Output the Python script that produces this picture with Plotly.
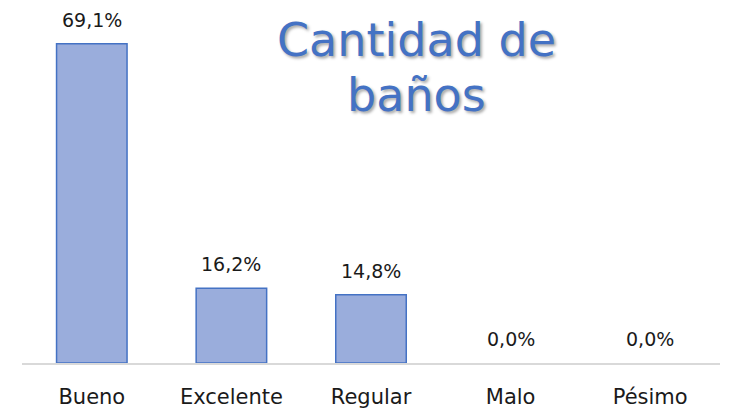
import plotly.graph_objects as go

categories = ["Bueno", "Excelente", "Regular", "Malo", "Pésimo"]
values = [69.1, 16.2, 14.8, 0.0, 0.0]
labels = ["69,1%", "16,2%", "14,8%", "0,0%", "0,0%"]

FONT = "Century Gothic, DejaVu Sans, sans-serif"

line_colors = ["#4472C4" if v > 0 else "rgba(0,0,0,0)" for v in values]

fig = go.Figure()
fig.add_trace(go.Bar(
    x=categories, y=values, width=0.505,
    marker=dict(color="#9AADDC", line=dict(color=line_colors, width=1.5)),
    hoverinfo="skip",
))

for c, v, t in zip(categories, values, labels):
    fig.add_annotation(x=c, y=v, text=t, showarrow=False, yanchor="middle",
                       yshift=24, font=dict(family=FONT, size=19, color="#1a1a1a"))

title_font = dict(family=FONT, size=46, color="#4472C4",
                  shadow="2px 2px 3px rgba(0,0,0,0.35)")
fig.add_annotation(xref="paper", yref="paper", x=0.565, y=1, yshift=-40,
                   text="Cantidad de", showarrow=False, yanchor="middle",
                   font=title_font)
fig.add_annotation(xref="paper", yref="paper", x=0.565, y=1, yshift=-95,
                   text="baños", showarrow=False, yanchor="middle",
                   font=title_font)

fig.update_layout(
    width=731, height=408,
    margin=dict(l=22, r=11, t=0, b=45),
    paper_bgcolor="white", plot_bgcolor="white",
    showlegend=False,
    bargap=0.5,
    xaxis=dict(showline=True, linecolor="#D9D9D9", linewidth=1.5,
               tickfont=dict(family=FONT, size=21, color="#1a1a1a"),
               ticks="", ticklabelstandoff=14, showgrid=False, fixedrange=True),
    yaxis=dict(range=[0, 78.6], visible=False, showgrid=False, fixedrange=True),
)

fig.write_html("out.html", config={"displayModeBar": False},
               post_script="document.body.style.margin='0';")
